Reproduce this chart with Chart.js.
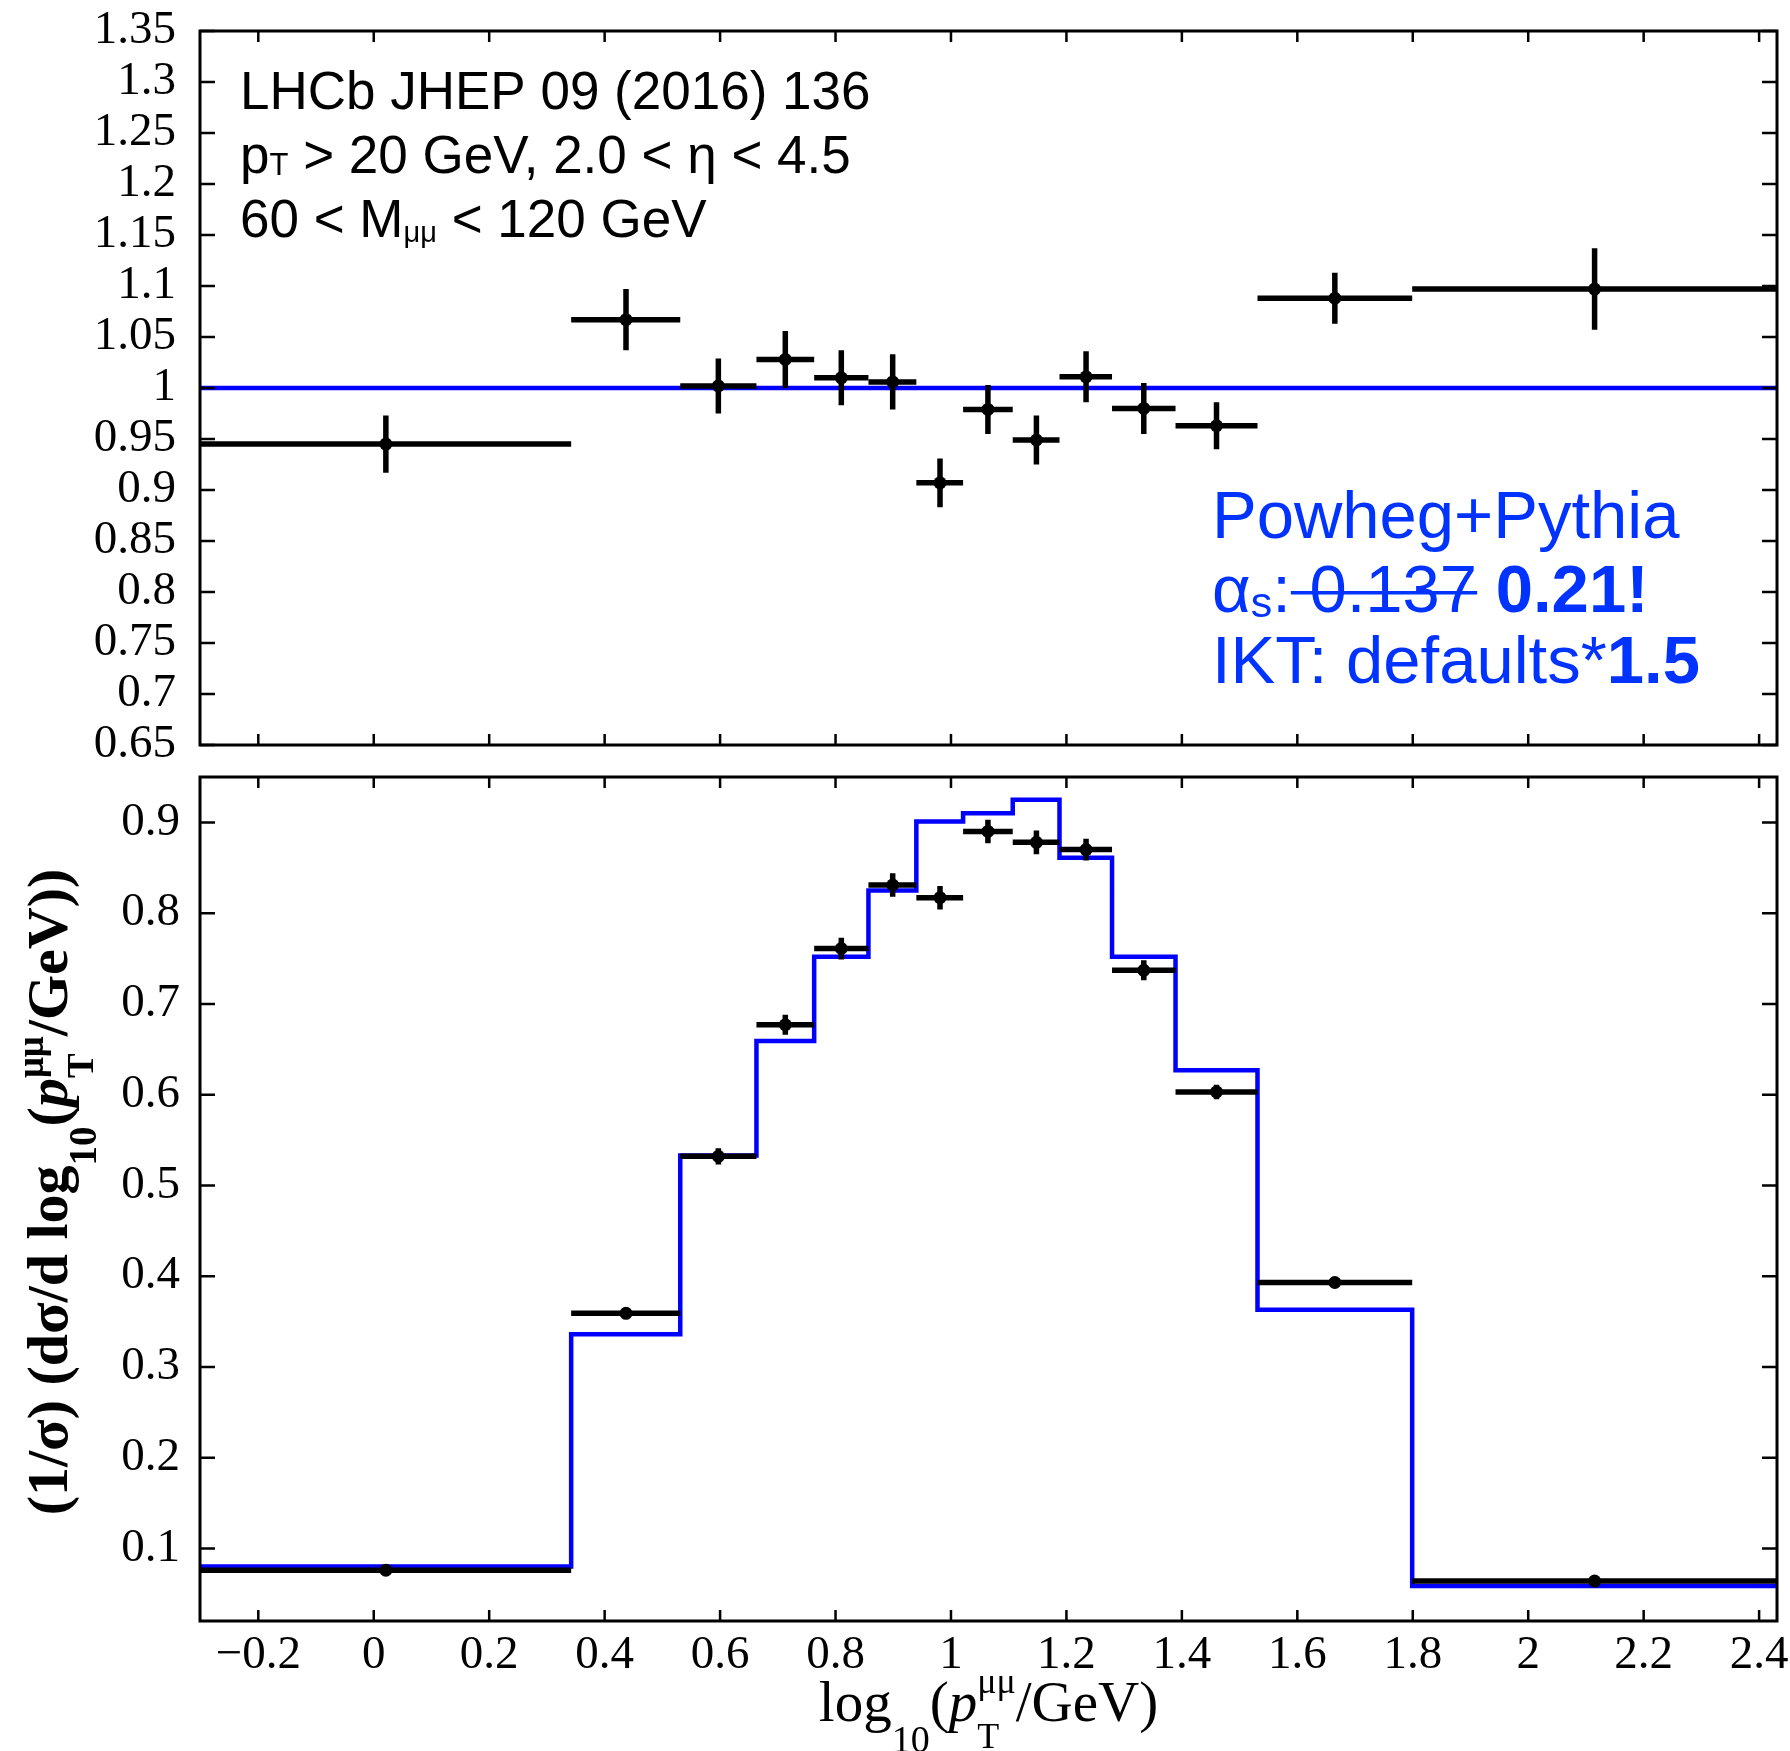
<!DOCTYPE html>
<html>
<head>
<meta charset="utf-8">
<script src="https://cdn.jsdelivr.net/npm/chart.js@4.4.1/dist/chart.umd.min.js"></script>
<style>
  body { margin: 0; background: #fff; }
  #wrap { position: relative; width: 1790px; height: 1751px; }
  canvas { position: absolute; left: 0; top: 0; }
</style>
</head>
<body>
<div id="wrap">
  <canvas id="ratio" width="1790" height="1751"></canvas>
  <canvas id="dist" width="1790" height="1751"></canvas>
</div>
<script>
// bins in log10(pT/GeV)
const binEdges = [-0.301, 0.342, 0.531, 0.663, 0.763, 0.857, 0.940, 1.021, 1.107, 1.188, 1.279, 1.389, 1.531, 1.799, 2.431];
const binCentres = [0.021, 0.437, 0.597, 0.713, 0.810, 0.899, 0.981, 1.064, 1.148, 1.234, 1.334, 1.460, 1.665, 2.115];

// top panel: data / MC
const ratioData = [0.945, 1.067, 1.002, 1.028, 1.010, 1.006, 0.907, 0.979, 0.949, 1.011, 0.980, 0.963, 1.088, 1.097];
const ratioErr  = [0.028, 0.030, 0.027, 0.028, 0.027, 0.027, 0.024, 0.024, 0.024, 0.025, 0.025, 0.023, 0.025, 0.040];

// bottom panel: LHCb data and Powheg+Pythia
const distData   = [0.076, 0.359, 0.532, 0.677, 0.761, 0.831, 0.817, 0.890, 0.878, 0.870, 0.737, 0.603, 0.393, 0.064];
const distErr    = [0.003, 0.004, 0.009, 0.011, 0.012, 0.013, 0.013, 0.013, 0.013, 0.012, 0.011, 0.008, 0.004, 0.003];
const powhegDist = [0.080, 0.336, 0.533, 0.659, 0.752, 0.825, 0.901, 0.910, 0.925, 0.861, 0.752, 0.627, 0.363, 0.0585];

// tick labels
const xTicks = [-0.2, 0, 0.2, 0.4, 0.6, 0.8, 1, 1.2, 1.4, 1.6, 1.8, 2, 2.2, 2.4];
const ratioTicks = [0.65, 0.7, 0.75, 0.8, 0.85, 0.9, 0.95, 1, 1.05, 1.1, 1.15, 1.2, 1.25, 1.3, 1.35];
const distTicks = [0.1, 0.2, 0.3, 0.4, 0.5, 0.6, 0.7, 0.8, 0.9];

const SERIF = 'Liberation Serif';
const SANS = 'Liberation Sans';
const BLUE = '#0000ff';
const TEXT_BLUE = '#0033ff';

const fmt = v => String(Math.round(v * 100) / 100).replace('-', '\u2212');

// little rich text helper for sub/superscripts
function runsWidth(ctx, runs) {
    let w = 0;
    for (const r of runs) {
        const parts = r.stack || [r];
        w += Math.max(...parts.map(s => { ctx.font = s.font; return ctx.measureText(s.t).width; }));
    }
    return w;
}
function drawRuns(ctx, x, y, runs) {
    for (const r of runs) {
        const parts = r.stack || [r];
        let w = 0;
        for (const s of parts) {
            ctx.font = s.font;
            ctx.fillText(s.t, x, y + (s.dy || 0));
            const sw = ctx.measureText(s.t).width;
            if (s.strike) ctx.fillRect(x, y - s.strike, sw, 3.5);
            w = Math.max(w, sw);
        }
        x += w;
    }
}

// frame with inward ticks on all four sides
const framePlugin = {
    id: 'frame',
    afterDraw(chart) {
        const { ctx, chartArea: a, scales: { x, y } } = chart;
        ctx.save();
        ctx.strokeStyle = '#000';
        ctx.lineWidth = 2.5;
        ctx.beginPath();
        xTicks.forEach(v => {
            const px = x.getPixelForValue(v);
            ctx.moveTo(px, a.top); ctx.lineTo(px, a.top + 11);
            ctx.moveTo(px, a.bottom); ctx.lineTo(px, a.bottom - 11);
        });
        y.ticks.forEach(t => {
            const py = y.getPixelForValue(t.value);
            ctx.moveTo(a.left, py); ctx.lineTo(a.left + 15, py);
            ctx.moveTo(a.right, py); ctx.lineTo(a.right - 15, py);
        });
        ctx.stroke();
        ctx.lineWidth = 3;
        ctx.strokeRect(a.left, a.top, a.right - a.left, a.bottom - a.top);
        ctx.restore();
    }
};

// bin-width and vertical error bars for the data points
const errPlugin = {
    id: 'errbars',
    afterDatasetsDraw(chart) {
        const { ctx, scales: { x, y } } = chart;
        ctx.save();
        ctx.strokeStyle = '#000';
        ctx.lineWidth = 5.5;
        ctx.lineCap = 'butt';
        chart.data.datasets.forEach(ds => {
            if (!ds.errY) return;
            ds.data.forEach((p, i) => {
                const py = y.getPixelForValue(p.y);
                ctx.beginPath();
                ctx.moveTo(x.getPixelForValue(binEdges[i]), py);
                ctx.lineTo(x.getPixelForValue(binEdges[i + 1]), py);
                const px = x.getPixelForValue(p.x);
                ctx.moveTo(px, y.getPixelForValue(p.y + ds.errY[i]));
                ctx.lineTo(px, y.getPixelForValue(p.y - ds.errY[i]));
                ctx.stroke();
            });
        });
        ctx.restore();
    }
};

const ratioText = {
    id: 'ratioText',
    afterDraw(chart) {
        const ctx = chart.ctx;
        const S = n => n + 'px ' + SANS;
        const B = n => 'bold ' + n + 'px ' + SANS;
        ctx.save();
        ctx.textAlign = 'left';
        ctx.textBaseline = 'alphabetic';
        ctx.fillStyle = '#000';
        drawRuns(ctx, 240, 109, [{ t: 'LHCb JHEP 09 (2016) 136', font: S(53) }]);
        drawRuns(ctx, 240, 173, [{ t: 'p', font: S(53) }, { t: 'T', font: S(31), dy: 2 },
            { t: ' > 20 GeV, 2.0 < \u03b7 < 4.5', font: S(53) }]);
        drawRuns(ctx, 240, 237, [{ t: '60 < M', font: S(53) }, { t: '\u03bc\u03bc', font: S(29), dy: 5 },
            { t: ' < 120 GeV', font: S(53) }]);

        ctx.fillStyle = TEXT_BLUE;
        drawRuns(ctx, 1212, 538, [{ t: 'Powheg+Pythia', font: S(67) }]);
        drawRuns(ctx, 1212, 612, [{ t: '\u03b1', font: S(67) }, { t: 's', font: S(43), dy: 5 },
            { t: ':', font: S(67) }, { t: ' 0.137', font: S(67), strike: 21 },
            { t: ' ', font: S(67) }, { t: '0.21!', font: B(67) }]);
        drawRuns(ctx, 1212, 683, [{ t: 'IKT: defaults*', font: S(67) }, { t: '1.5', font: B(67) }]);
        ctx.restore();
    }
};

const distTitles = {
    id: 'distTitles',
    afterDraw(chart) {
        const { ctx, chartArea: a } = chart;
        const R = n => n + 'px ' + SERIF;
        const I = n => 'italic ' + n + 'px ' + SERIF;
        const RB = n => 'bold ' + n + 'px ' + SERIF;
        const BI = n => 'bold italic ' + n + 'px ' + SERIF;
        ctx.save();
        ctx.fillStyle = '#000';
        ctx.textAlign = 'left';
        ctx.textBaseline = 'alphabetic';

        const xRuns = [
            { t: 'log', font: R(57) }, { t: '10', font: R(38), dy: 31 }, { t: '(', font: R(57) },
            { t: 'p', font: I(57) },
            { stack: [{ t: '\u03bc\u03bc', font: R(36), dy: -28 }, { t: 'T', font: R(36), dy: 27 }] },
            { t: '/GeV)', font: R(57) }
        ];
        const cx = (a.left + a.right) / 2;
        drawRuns(ctx, cx - runsWidth(ctx, xRuns) / 2, 1721, xRuns);

        const yRuns = [
            { t: '(1/\u03c3) (d\u03c3/d log', font: RB(58) }, { t: '10', font: RB(39), dy: 29 },
            { t: '(', font: RB(58) }, { t: 'p', font: BI(58) },
            { stack: [{ t: '\u03bc\u03bc', font: RB(37), dy: -24 }, { t: 'T', font: RB(37), dy: 26 }] },
            { t: '/GeV))', font: RB(58) }
        ];
        ctx.translate(67, 1192);
        ctx.rotate(-Math.PI / 2);
        drawRuns(ctx, -runsWidth(ctx, yRuns) / 2, 0, yRuns);
        ctx.restore();
    }
};

const tickFont = { family: SERIF, size: 47 };

function xScale(show) {
    return {
        type: 'linear',
        min: binEdges[0],
        max: binEdges[binEdges.length - 1],
        display: show,
        grid: { display: false, drawTicks: false },
        border: { display: false },
        afterBuildTicks: s => { s.ticks = xTicks.map(v => ({ value: v })); },
        afterFit: s => { s.paddingLeft = 0; s.paddingRight = 0; if (show) s.height = 130; },
        ticks: { font: tickFont, color: '#000', padding: 6, autoSkip: false, maxRotation: 0, callback: fmt }
    };
}
function yScale(min, max, ticks, pad) {
    return {
        type: 'linear',
        min: min,
        max: max,
        grid: { display: false, drawTicks: false },
        border: { display: false },
        afterBuildTicks: s => { s.ticks = ticks.map(v => ({ value: v })); },
        afterFit: s => { s.width = 200; s.paddingTop = 0; s.paddingBottom = 0; },
        ticks: { font: tickFont, color: '#000', padding: pad, autoSkip: false, callback: fmt }
    };
}

const common = {
    responsive: false,
    animation: false,
    devicePixelRatio: 1,
    events: [],
    plugins: { legend: { display: false }, tooltip: { enabled: false } }
};

// top panel: ratio
new Chart(document.getElementById('ratio'), {
    type: 'line',
    data: {
        datasets: [{
            type: 'scatter',
            data: binCentres.map((x, i) => ({ x: x, y: ratioData[i] })),
            errY: ratioErr,
            showLine: false,
            pointRadius: 6.5,
            pointBackgroundColor: '#000',
            pointBorderWidth: 0
        }, {
            data: [{ x: binEdges[0], y: 1 }, { x: binEdges[binEdges.length - 1], y: 1 }],
            borderColor: BLUE,
            borderWidth: 4.5,
            pointRadius: 0,
            fill: false
        }]
    },
    options: Object.assign({}, common, {
        layout: { padding: { top: 31, bottom: 1006, left: 0, right: 13 } },
        scales: { x: xScale(false), y: yScale(0.65, 1.35, ratioTicks, 24) }
    }),
    plugins: [errPlugin, framePlugin, ratioText]
});

// bottom panel: normalised distribution
new Chart(document.getElementById('dist'), {
    type: 'line',
    data: {
        datasets: [{
            type: 'scatter',
            data: binCentres.map((x, i) => ({ x: x, y: distData[i] })),
            errY: distErr,
            showLine: false,
            pointRadius: 6.5,
            pointBackgroundColor: '#000',
            pointBorderWidth: 0
        }, {
            data: binEdges.map((e, i) => ({ x: e, y: powhegDist[Math.min(i, powhegDist.length - 1)] })),
            stepped: true,
            borderColor: BLUE,
            borderWidth: 4.5,
            borderJoinStyle: 'miter',
            pointRadius: 0,
            fill: false
        }]
    },
    options: Object.assign({}, common, {
        layout: { padding: { top: 777, bottom: 0, left: 0, right: 13 } },
        scales: { x: xScale(true), y: yScale(0.02, 0.95, distTicks, 20) }
    }),
    plugins: [errPlugin, framePlugin, distTitles]
});
</script>
</body>
</html>
